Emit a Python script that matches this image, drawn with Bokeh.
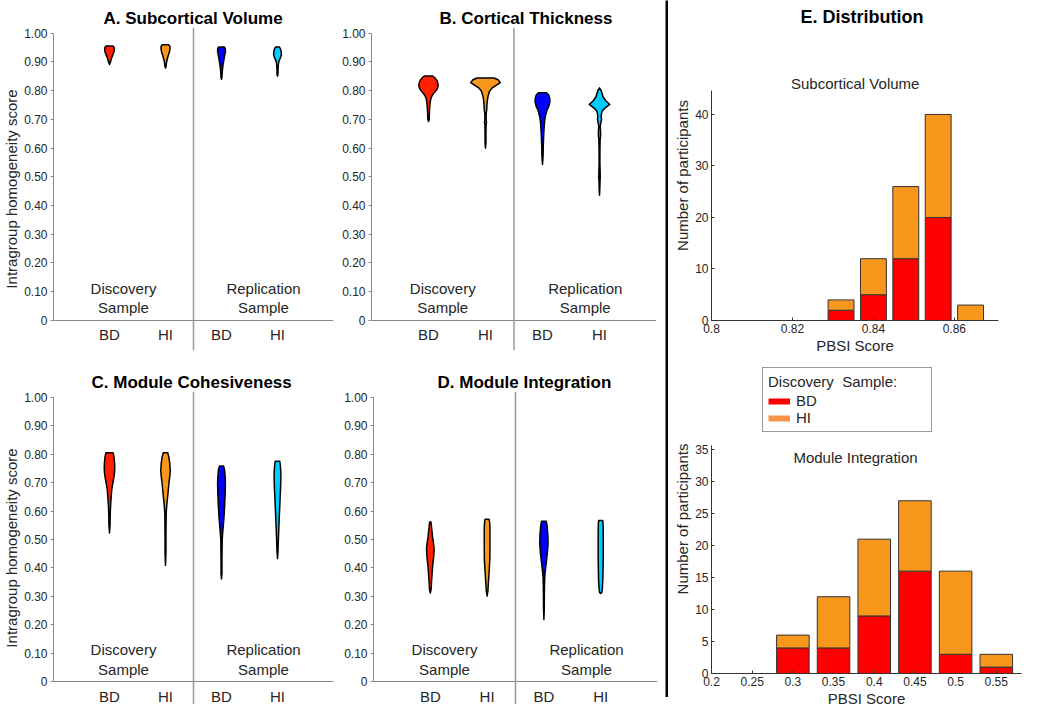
from bokeh.plotting import figure
from bokeh.layouts import row, column
from bokeh.models import (Range1d, FixedTicker, NumeralTickFormatter, Span, Label,
                          Legend, LegendItem)
from bokeh.embed import file_html
from bokeh.resources import INLINE
from bokeh.core.properties import value

FONT = "Liberation Sans"
TXT = "#262626"

# ---------------- data ----------------
CATEGORY_POS = [1, 2, 3, 4]
CATEGORY_LABELS = ["BD", "HI", "BD", "HI"]
SAMPLE_LABELS = ["Discovery\nSample", "Replication\nSample"]
Y_TICKS = [0, 0.1, 0.2, 0.3, 0.4, 0.5, 0.6, 0.7, 0.8, 0.9, 1.0]
VIOLIN_COLORS = ["#FF2000", "#F7981D", "#0000FF", "#00CCFF"]

# violin outlines: score levels (top -> bottom) and half-widths (category units)
# A. Subcortical Volume
A_BD1_Y = [0.956, 0.952, 0.944, 0.935, 0.925, 0.915, 0.905, 0.897, 0.891]
A_BD1_W = [0.055, 0.080, 0.088, 0.080, 0.060, 0.040, 0.025, 0.012, 0.0]
A_HI1_Y = [0.960, 0.955, 0.947, 0.935, 0.920, 0.905, 0.895, 0.885, 0.879]
A_HI1_W = [0.055, 0.078, 0.082, 0.070, 0.045, 0.025, 0.015, 0.010, 0.0]
A_BD2_Y = [0.952, 0.947, 0.937, 0.920, 0.905, 0.890, 0.875, 0.860, 0.845, 0.840]
A_BD2_W = [0.050, 0.068, 0.070, 0.055, 0.040, 0.028, 0.018, 0.012, 0.008, 0.0]
A_HI2_Y = [0.952, 0.945, 0.935, 0.926, 0.916, 0.907, 0.898, 0.885, 0.870, 0.855, 0.851]
A_HI2_W = [0.035, 0.055, 0.066, 0.070, 0.055, 0.035, 0.020, 0.012, 0.010, 0.008, 0.0]
# B. Cortical Thickness
B_BD1_Y = [0.851, 0.845, 0.835, 0.825, 0.816, 0.805, 0.795, 0.785, 0.775, 0.760, 0.740, 0.720, 0.700, 0.693]
B_BD1_W = [0.075, 0.110, 0.150, 0.165, 0.170, 0.150, 0.110, 0.070, 0.045, 0.030, 0.020, 0.015, 0.012, 0.0]
B_HI1_Y = [0.844, 0.838, 0.828, 0.820, 0.810, 0.800, 0.785, 0.770, 0.750, 0.735, 0.720, 0.700, 0.690, 0.680, 0.650, 0.620, 0.600]
B_HI1_W = [0.150, 0.220, 0.260, 0.200, 0.120, 0.075, 0.050, 0.035, 0.025, 0.022, 0.012, 0.010, 0.018, 0.010, 0.008, 0.008, 0.0]
B_BD2_Y = [0.793, 0.785, 0.775, 0.761, 0.745, 0.730, 0.710, 0.690, 0.670, 0.650, 0.630, 0.600, 0.570, 0.543]
B_BD2_W = [0.070, 0.110, 0.125, 0.130, 0.110, 0.075, 0.050, 0.035, 0.028, 0.022, 0.018, 0.013, 0.010, 0.0]
B_HI2_Y = [0.810, 0.800, 0.790, 0.778, 0.765, 0.752, 0.740, 0.730, 0.720, 0.710, 0.700, 0.690, 0.675,
           0.660, 0.645, 0.630, 0.600, 0.550, 0.510, 0.500, 0.490, 0.460, 0.436]
B_HI2_W = [0.0, 0.030, 0.045, 0.064, 0.110, 0.180, 0.100, 0.050, 0.035, 0.030, 0.036, 0.025, 0.012,
           0.018, 0.020, 0.012, 0.008, 0.007, 0.012, 0.014, 0.010, 0.006, 0.0]
# C. Module Cohesiveness
C_BD1_Y = [0.805, 0.790, 0.770, 0.754, 0.735, 0.715, 0.696, 0.675, 0.649, 0.620, 0.600, 0.580, 0.550, 0.523]
C_BD1_W = [0.064, 0.080, 0.090, 0.094, 0.090, 0.075, 0.058, 0.040, 0.030, 0.020, 0.015, 0.012, 0.010, 0.0]
C_HI1_Y = [0.805, 0.790, 0.770, 0.743, 0.720, 0.700, 0.673, 0.645, 0.614, 0.590, 0.550, 0.500, 0.450, 0.409]
C_HI1_W = [0.040, 0.060, 0.075, 0.085, 0.075, 0.062, 0.050, 0.035, 0.020, 0.012, 0.010, 0.008, 0.008, 0.0]
C_BD2_Y = [0.758, 0.745, 0.720, 0.696, 0.660, 0.614, 0.580, 0.544, 0.520, 0.497, 0.460, 0.420, 0.380, 0.361]
C_BD2_W = [0.035, 0.055, 0.065, 0.070, 0.065, 0.055, 0.045, 0.030, 0.020, 0.012, 0.010, 0.008, 0.008, 0.0]
C_HI2_Y = [0.775, 0.760, 0.740, 0.719, 0.680, 0.640, 0.614, 0.570, 0.521, 0.490, 0.460, 0.433]
C_HI2_W = [0.040, 0.052, 0.058, 0.061, 0.055, 0.045, 0.040, 0.030, 0.020, 0.014, 0.010, 0.0]
# D. Module Integration
D_BD1_Y = [0.561, 0.545, 0.525, 0.509, 0.490, 0.468, 0.440, 0.404, 0.375, 0.345, 0.325, 0.312]
D_BD1_W = [0.012, 0.020, 0.032, 0.040, 0.055, 0.067, 0.060, 0.040, 0.030, 0.020, 0.015, 0.0]
D_HI1_Y = [0.571, 0.560, 0.540, 0.510, 0.470, 0.430, 0.400, 0.368, 0.340, 0.320, 0.301]
D_HI1_W = [0.035, 0.045, 0.050, 0.050, 0.050, 0.048, 0.040, 0.030, 0.020, 0.015, 0.0]
D_BD2_Y = [0.564, 0.550, 0.520, 0.486, 0.450, 0.415, 0.390, 0.368, 0.340, 0.300, 0.260, 0.219]
D_BD2_W = [0.040, 0.055, 0.068, 0.073, 0.060, 0.040, 0.025, 0.015, 0.010, 0.008, 0.007, 0.0]
D_HI2_Y = [0.567, 0.555, 0.520, 0.486, 0.440, 0.400, 0.360, 0.330, 0.314, 0.310]
D_HI2_W = [0.035, 0.042, 0.045, 0.045, 0.045, 0.042, 0.038, 0.030, 0.020, 0.0]

# E. Distribution histograms
SUB_BINS = [0.808, 0.816, 0.824, 0.832, 0.840, 0.848, 0.856, 0.864]
SUB_BD = [0, 0, 0, 2, 5, 12, 20, 0]
SUB_HI = [0, 0, 0, 2, 7, 14, 20, 3]
SUB_X_TICKS = [0.8, 0.82, 0.84, 0.86]
SUB_X_LABELS = ["0.8", "0.82", "0.84", "0.86"]
SUB_Y_TICKS = [0, 10, 20, 30, 40]

INT_BINS = [0.2, 0.25, 0.3, 0.35, 0.4, 0.45, 0.5, 0.55]
INT_BD = [0, 0, 4, 4, 9, 16, 3, 1]
INT_HI = [0, 0, 2, 8, 12, 11, 13, 2]
INT_X_TICKS = [0.2, 0.25, 0.3, 0.35, 0.4, 0.45, 0.5, 0.55]
INT_X_LABELS = ["0.2", "0.25", "0.3", "0.35", "0.4", "0.45", "0.5", "0.55"]
INT_Y_TICKS = [0, 5, 10, 15, 20, 25, 30, 35]

LEGEND_TITLE = "Discovery  Sample:"
LEGEND_LABELS = ["BD", "HI"]
BAR_BD_COLOR = "#FF0000"
BAR_HI_COLOR = "#F7981D"
LEGEND_COLORS = ["#FF0000", "#F7964A"]


def style_title(p, text, offset, size="17px", standoff=0):
    p.title.text = text
    p.title.align = "left"
    p.title.offset = offset
    p.title.standoff = standoff
    p.title.text_font = FONT
    p.title.text_font_size = size
    p.title.text_font_style = "bold"
    p.title.text_color = "black"


def violin_panel(title, toffset, ylabel, profiles, ymin, fw, fh, bl, br, bt, bb):
    p = figure(frame_width=fw, frame_height=fh, x_range=Range1d(0, 5),
               y_range=Range1d(ymin, 1.02), output_backend="svg",
               toolbar_location=None, min_border_left=bl, min_border_right=br,
               min_border_top=bt, min_border_bottom=bb)
    p.outline_line_color = None
    p.grid.visible = False
    style_title(p, title, toffset)
    p.add_layout(Span(location=2.5, dimension="height", line_color="#9a9a9a", line_width=1.5))
    for pos, (ys, ws), color in zip(CATEGORY_POS, profiles, VIOLIN_COLORS):
        xs = [pos + w for w in ws] + [pos - w for w in ws[::-1]]
        yy = list(ys) + list(ys[::-1])
        p.patch(xs, yy, fill_color=color, line_color="black", line_width=1.5,
                line_join="round")
    p.text(x=[1.25, 3.75], y=[0.078, 0.078], text=SAMPLE_LABELS, text_align="center",
           text_baseline="middle", text_font=value(FONT), text_font_size="15px",
           text_color=TXT, text_line_height=1.15)
    xa = p.xaxis[0]
    xa.fixed_location = 0
    xa.ticker = FixedTicker(ticks=CATEGORY_POS)
    xa.major_label_overrides = {k: v for k, v in zip(CATEGORY_POS, CATEGORY_LABELS)}
    xa.major_tick_line_color = None
    xa.major_tick_in = 0
    xa.major_tick_out = 0
    xa.minor_tick_line_color = None
    xa.axis_line_color = "#888888"
    xa.major_label_text_font = FONT
    xa.major_label_text_font_size = "15px"
    xa.major_label_text_color = TXT
    xa.major_label_standoff = 6
    ya = p.yaxis[0]
    ya.bounds = (0, 1)
    ya.ticker = FixedTicker(ticks=Y_TICKS)
    ya.formatter = NumeralTickFormatter(format="0.00")
    ya.major_label_overrides = {0: "0"}
    ya.major_tick_in = 0
    ya.major_tick_out = 3
    ya.minor_tick_line_color = None
    ya.axis_line_color = "#888888"
    ya.major_tick_line_color = "#888888"
    ya.major_label_text_font = FONT
    ya.major_label_text_font_size = "12px"
    ya.major_label_text_color = TXT
    ya.major_label_standoff = 3
    if ylabel:
        ya.axis_label = ylabel
        ya.axis_label_text_font = FONT
        ya.axis_label_text_font_size = "15px"
        ya.axis_label_text_font_style = "normal"
        ya.axis_label_text_color = TXT
        ya.axis_label_standoff = 1
    return p


YLAB = "Intragroup homogeneity score"
pA = violin_panel("A. Subcortical Volume", 50, YLAB,
                  [(A_BD1_Y, A_BD1_W), (A_HI1_Y, A_HI1_W), (A_BD2_Y, A_BD2_W), (A_HI2_Y, A_HI2_W)],
                  -0.105, 280, 323, 47, 5, 27, 2)
pB = violin_panel("B. Cortical Thickness", 68, None,
                  [(B_BD1_Y, B_BD1_W), (B_HI1_Y, B_HI1_W), (B_BD2_Y, B_BD2_W), (B_HI2_Y, B_HI2_W)],
                  -0.105, 285, 323, 33, 9, 27, 2)
pC = violin_panel("C. Module Cohesiveness", 38, YLAB,
                  [(C_BD1_Y, C_BD1_W), (C_HI1_Y, C_HI1_W), (C_BD2_Y, C_BD2_W), (C_HI2_Y, C_HI2_W)],
                  -0.08, 280, 313, 47, 5, 39, 0)
pD = violin_panel("D. Module Integration", 64, None,
                  [(D_BD1_Y, D_BD1_W), (D_HI1_Y, D_HI1_W), (D_BD2_Y, D_BD2_W), (D_HI2_Y, D_HI2_W)],
                  -0.08, 284, 313, 35, 8, 39, 0)


def hist_panel(bins, bd, hi, width, xr, yr, ybound, xticks, xlabels, yticks, fw, fh, bl, br, bt, bb):
    p = figure(frame_width=fw, frame_height=fh, x_range=Range1d(*xr), y_range=Range1d(*yr),
               output_backend="svg", toolbar_location=None, min_border_left=bl,
               min_border_right=br, min_border_top=bt, min_border_bottom=bb)
    p.outline_line_color = None
    p.grid.visible = False
    tot = [a + b for a, b in zip(bd, hi)]
    p.vbar(x=bins, width=width, bottom=0, top=bd, fill_color=BAR_BD_COLOR,
           line_color="#333333", line_width=1)
    p.vbar(x=bins, width=width, bottom=bd, top=tot, fill_color=BAR_HI_COLOR,
           line_color="#333333", line_width=1)
    xa = p.xaxis[0]
    xa.ticker = FixedTicker(ticks=xticks)
    xa.major_label_overrides = {k: v for k, v in zip(xticks, xlabels)}
    xa.axis_label = "PBSI Score"
    ya = p.yaxis[0]
    ya.ticker = FixedTicker(ticks=yticks)
    ya.bounds = (0, ybound)
    ya.axis_label = "Number of participants"
    for ax in (xa, ya):
        ax.axis_line_color = "#333333"
        ax.major_tick_line_color = "#333333"
        ax.major_tick_in = 3
        ax.major_tick_out = 0
        ax.minor_tick_line_color = None
        ax.major_label_text_font = FONT
        ax.major_label_text_font_size = "12px"
        ax.major_label_text_color = TXT
        ax.major_label_standoff = 3
        ax.axis_label_text_font = FONT
        ax.axis_label_text_font_size = "15px"
        ax.axis_label_text_font_style = "normal"
        ax.axis_label_text_color = TXT
        ax.axis_label_standoff = 1
    return p


pE1 = hist_panel(SUB_BINS, SUB_BD, SUB_HI, 0.0064, (0.8, 0.8709), (0, 56.3), 44.7,
                 SUB_X_TICKS, SUB_X_LABELS, SUB_Y_TICKS, 287, 290, 43, 42, 29, 35)
style_title(pE1, "E. Distribution", 89, size="18px", standoff=8)
pE1.add_layout(Label(x=0.8355, y=46.0, text="Subcortical Volume", text_align="center",
                     text_baseline="middle", text_font=FONT, text_font_size="15px",
                     text_color=TXT))

pE2 = hist_panel(INT_BINS, INT_BD, INT_HI, 0.04, (0.2, 0.581), (0, 48.3), 35.6,
                 INT_X_TICKS, INT_X_LABELS, INT_Y_TICKS, 310, 309, 43, 19, 8, 33)
pE2.add_layout(Label(x=0.377, y=33.75, text="Module Integration", text_align="center",
                     text_baseline="middle", text_font=FONT, text_font_size="15px",
                     text_color=TXT))
# legend proxies (a single NaN point, so nothing is drawn in the plot area)
proxies = [pE2.line(x=[float("nan")], y=[float("nan")], line_color=c, line_width=6)
           for c in LEGEND_COLORS]
legend = Legend(items=[LegendItem(label=lab, renderers=[r])
                       for lab, r in zip(LEGEND_LABELS, proxies)],
                location=(51, 241), title=LEGEND_TITLE, margin=0, padding=5,
                spacing=0, glyph_width=22, glyph_height=16, label_height=16,
                label_width=130, label_standoff=6, title_standoff=2,
                border_line_color="#333333", border_line_width=1,
                title_text_font=FONT, title_text_font_size="15px",
                title_text_font_style="normal", title_text_color=TXT,
                label_text_font=FONT, label_text_font_size="15px", label_text_color=TXT,
                background_fill_color="white", background_fill_alpha=1)
pE2.add_layout(legend)

divider = figure(width=3, height=697, output_backend="svg", toolbar_location=None,
                 x_axis_location=None, y_axis_location=None, min_border=0,
                 x_range=Range1d(0, 1), y_range=Range1d(0, 1))
divider.grid.visible = False
divider.outline_line_color = None
divider.background_fill_color = "black"
divider.border_fill_color = "black"

left = column(row(pA, pB), row(pC, pD))
right = column(pE1, pE2)
layout = row(left, divider, right)

with open("out.html", "w") as f:
    f.write(file_html(layout, INLINE))
